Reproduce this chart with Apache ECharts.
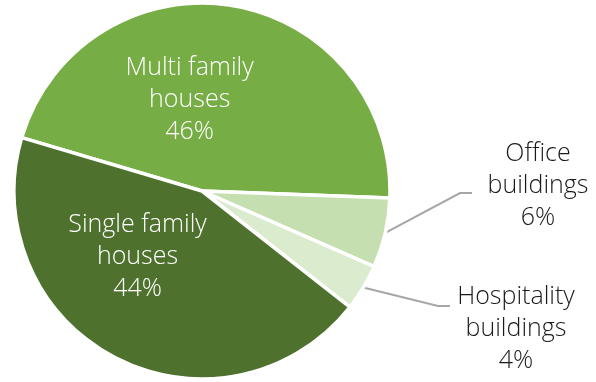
<!DOCTYPE html>
<html>
<head>
<meta charset="utf-8">
<script src="https://cdn.jsdelivr.net/npm/echarts@6/dist/echarts.min.js"></script>
<style>
  html, body { margin: 0; padding: 0; background: #ffffff; }
  #chart { width: 596px; height: 382px; }
</style>
</head>
<body>
<div id="chart"></div>
<script>
// Building stock by type, share in percent
const categories = ['Multi family\nhouses', 'Office\nbuildings', 'Hospitality\nbuildings', 'Single family\nhouses'];
const shares = [46, 6, 4, 44];
const sliceColors = ['#77ad45', '#c6dfb1', '#dbebcd', '#4e722e'];

// Which slices carry their label inside, and which use a callout
const insideLabels = [true, false, false, true];

// Per-slice label placement tweaks
const insideShift = { 0: [-28, 5], 3: [-20, -20] };
const callouts = {
  1: { elbow: [460, 193], end: [472, 193], text: [538, 186] },
  2: { elbow: [438, 306], end: [450, 306], text: [516, 329] }
};

const FONT = '"Open Sans", "Liberation Sans", sans-serif';

const chart = echarts.init(document.getElementById('chart'), null, { renderer: 'canvas' });

const data = categories.map((name, i) => ({
  name: name,
  value: shares[i],
  itemStyle: { color: sliceColors[i] },
  label: insideLabels[i]
    ? { position: 'inside', color: '#ffffff' }
    : { position: 'outside', color: '#1a1a1a' },
  labelLine: { show: !insideLabels[i] }
}));

chart.setOption({
  animation: false,
  backgroundColor: '#ffffff',
  series: [{
    type: 'pie',
    center: [202, 191],
    radius: 188,
    startAngle: 163.5,
    clockwise: true,
    avoidLabelOverlap: false,
    itemStyle: { borderColor: '#ffffff', borderWidth: 3.5 },
    label: {
      show: true,
      fontFamily: FONT,
      fontWeight: 300,
      fontSize: 25,
      lineHeight: 32,
      align: 'center',
      formatter: p => p.name + '\n' + p.value + '%'
    },
    labelLine: {
      show: true,
      length: 40,
      length2: 12,
      lineStyle: { color: '#a6a6a6', width: 2 }
    },
    labelLayout: function (params) {
      const i = params.dataIndex;
      if (insideShift[i]) {
        return { dx: insideShift[i][0], dy: insideShift[i][1] };
      }
      const c = callouts[i];
      if (!c) return {};
      const start = params.labelLinePoints ? params.labelLinePoints[0] : c.elbow;
      return {
        x: c.text[0],
        y: c.text[1],
        align: 'center',
        verticalAlign: 'middle',
        labelLinePoints: [start, c.elbow, c.end]
      };
    },
    data: data
  }]
});
</script>
</body>
</html>
